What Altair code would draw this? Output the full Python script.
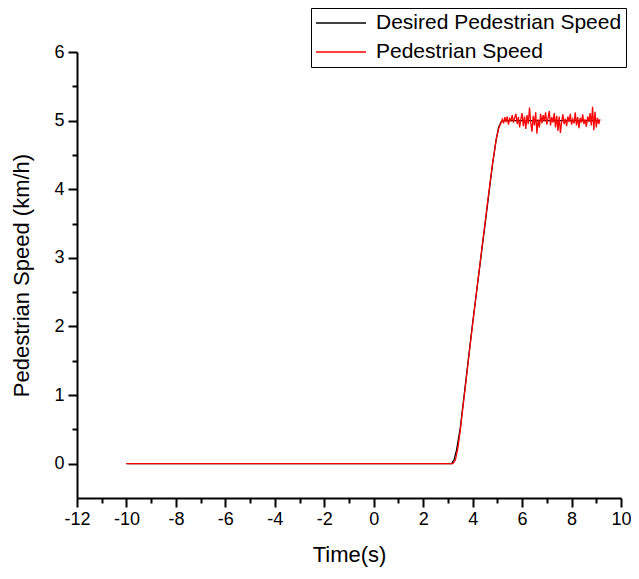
import altair as alt
import pandas as pd

# Desired pedestrian speed (km/h) vs time (s)
time_desired = [-10.0, 3.15, 3.25, 3.35, 3.5, 4.0, 4.5, 4.8, 4.95, 5.05, 5.15, 5.25, 9.15]
speed_desired = [0.0, 0.0, 0.06, 0.2, 0.52, 2.05, 3.48, 4.35, 4.72, 4.9, 4.98, 5.0, 5.0]

# Measured pedestrian speed (km/h) vs time (s)
time_actual = [-10.0, 3.2, 3.3, 3.4, 3.5, 3.6, 3.7, 3.8, 3.9, 4.0, 4.1, 4.2, 4.3, 4.4, 4.5,
               4.6, 4.7, 4.8, 4.9,
               4.95, 5.00, 5.05, 5.10, 5.15, 5.20, 5.25, 5.30, 5.35, 5.40, 5.45, 5.50,
               5.55, 5.60, 5.65, 5.70, 5.75, 5.80, 5.85, 5.90, 5.95, 6.00, 6.05, 6.10,
               6.15, 6.20, 6.25, 6.30, 6.35, 6.40, 6.45, 6.50, 6.55, 6.60, 6.65, 6.70,
               6.75, 6.80, 6.85, 6.90, 6.95, 7.00, 7.05, 7.10, 7.15, 7.20, 7.25, 7.30,
               7.35, 7.40, 7.45, 7.50, 7.55, 7.60, 7.65, 7.70, 7.75, 7.80, 7.85, 7.90,
               7.95, 8.00, 8.05, 8.10, 8.15, 8.20, 8.25, 8.30, 8.35, 8.40, 8.45, 8.50,
               8.55, 8.60, 8.65, 8.70, 8.75, 8.80, 8.85, 8.90, 8.95, 9.00, 9.05, 9.10, 9.15]
speed_actual = [0.0, 0.0, 0.05, 0.22, 0.48, 0.80, 1.10, 1.42, 1.73, 2.03, 2.33, 2.63, 2.92, 3.22, 3.50,
                3.80, 4.08, 4.36, 4.60,
                4.72, 4.80, 4.88, 4.93, 4.97, 5.02, 4.96, 5.05, 4.98, 5.06, 4.94, 5.03,
                5.00, 5.08, 4.97, 5.04, 5.10, 4.95, 5.05, 4.90, 5.02, 5.11, 4.92, 5.06,
                4.88, 5.08, 4.95, 5.19, 4.97, 4.84, 5.07, 4.93, 5.12, 4.81, 5.02, 4.90,
                5.10, 4.96, 5.08, 4.99, 5.12, 4.94, 5.04, 5.14, 4.93, 5.05, 4.97, 5.11,
                4.90, 5.07, 4.85, 5.06, 4.82, 4.98, 5.09, 4.95, 5.03, 4.92, 5.06, 4.98,
                5.10, 4.94, 5.02, 4.96, 5.12, 4.93, 5.05, 4.89, 5.04, 4.97, 5.09, 4.95,
                5.02, 4.91, 5.06, 4.98, 5.11, 4.93, 5.20, 4.86, 5.13, 4.90, 5.04, 4.95, 5.02]

series_names = ["Desired Pedestrian Speed", "Pedestrian Speed"]
series_colors = ["#000000", "#ff0000"]

x_ticks = list(range(-12, 11))
y_ticks = [v / 2 for v in range(0, 13)]

df_des = pd.DataFrame({"t": time_desired, "v": speed_desired, "s": series_names[0]})
df_act = pd.DataFrame({"t": time_actual, "v": speed_actual, "s": series_names[1]})

FONT = "Liberation Sans"

x_enc = alt.X("t:Q", scale=alt.Scale(domain=[-12, 10], nice=False, zero=False),
              axis=alt.Axis(title="Time(s)", values=x_ticks,
                            labelExpr="datum.value % 2 == 0 ? '' + datum.value : ''",
                            tickSize={"condition": {"test": "datum.value % 2 == 0", "value": 9}, "value": 5},
                            labelPadding=3, titlePadding=16, labelFontSize=18, labelFlush=False))
y_enc = alt.Y("v:Q", scale=alt.Scale(domain=[-0.5, 6], nice=False, zero=False),
              axis=alt.Axis(title="Pedestrian Speed (km/h)", values=y_ticks,
                            labelExpr="datum.value % 1 == 0 ? '' + datum.value : ''",
                            tickSize={"condition": {"test": "datum.value % 1 == 0", "value": 9}, "value": 5},
                            labelPadding=4, titlePadding=20, labelFontSize=18))
color_enc = alt.Color("s:N", scale=alt.Scale(domain=series_names, range=series_colors),
                      legend=alt.Legend(title=None, orient="none", legendX=234, legendY=-44,
                                        strokeColor="black", fillColor="white", padding=4,
                                        symbolType="stroke", symbolSize=2500, symbolStrokeWidth=1.5,
                                        clipHeight=22,
                                        labelFontSize=21, labelFont=FONT, labelColor="black",
                                        labelOffset=9, rowPadding=7, labelLimit=400))

black = alt.Chart(df_des).mark_line(strokeWidth=1.3).encode(x=x_enc, y=y_enc, color=color_enc)
red = alt.Chart(df_act).mark_line(strokeWidth=1.3).encode(x=x_enc, y=y_enc, color=color_enc)

chart = alt.layer(black, red).properties(
    width=544, height=446,
    padding={"left": 69, "top": 44, "right": 10, "bottom": 73},
    autosize=alt.AutoSizeParams(type="none")
).configure_view(stroke=None).configure_axis(
    grid=False, domainColor="black", domainWidth=2, tickColor="black", tickWidth=2,
    labelFont=FONT, labelFontSize=18, labelColor="black",
    titleFont=FONT, titleFontSize=22, titleFontWeight="normal", titleColor="black"
)

chart.save("out.html", embed_options={"renderer": "svg", "actions": False})
